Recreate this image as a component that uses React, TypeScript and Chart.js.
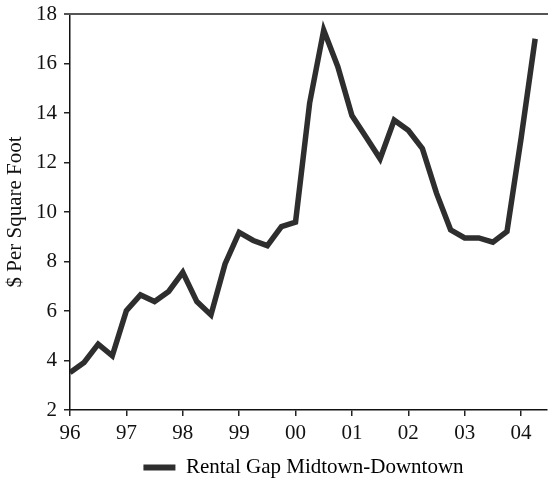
import React, { useEffect, useRef } from "react";
import { Chart, registerables } from "chart.js";

Chart.register(...registerables);

const yearLabels = ["96", "97", "98", "99", "00", "01", "02", "03", "04"];
// quarterly values starting 1996 Q1
const gapValues = [
  3.51, 3.92, 4.66, 4.19, 6.01, 6.65, 6.38, 6.79, 7.56, 6.38, 5.84, 7.9, 9.18,
  8.85, 8.64, 9.41, 9.59, 14.4, 17.35, 15.87, 13.9, 13.03, 12.15, 13.71, 13.3,
  12.56, 10.76, 9.28, 8.95, 8.95, 8.78, 9.21, 12.97, 17.0,
];
const seriesName = "Rental Gap Midtown-Downtown";
const yTicks = [2, 4, 6, 8, 10, 12, 14, 16, 18];

const FONT = "'Liberation Serif', 'Times New Roman', serif";
const FS = 21;

export default function App() {
  const ref = useRef<HTMLCanvasElement | null>(null);
  useEffect(() => {
    if (!ref.current) return;
    const pts = gapValues.map((v, i) => ({ x: i / 4, y: v }));
    const topLine = {
      id: "topLine",
      afterLayout(chart: any) {
        const lg = chart.legend;
        if (lg) {
          lg.left += 30;
          lg.right += 30;
          lg.top += 8;
          lg.bottom += 8;
        }
      },
      afterDraw(chart: any) {
        const { ctx, chartArea } = chart;
        ctx.save();
        ctx.strokeStyle = "#555";
        ctx.lineWidth = 2;
        ctx.beginPath();
        ctx.moveTo(chartArea.left - 6, chartArea.top);
        ctx.lineTo(chartArea.right + 2, chartArea.top);
        ctx.stroke();
        ctx.restore();
      },
    };
    const chart = new Chart(ref.current, {
      type: "line",
      data: {
        datasets: [
          {
            label: seriesName,
            data: pts,
            borderColor: "#2e2e2e",
            backgroundColor: "#2e2e2e",
            borderWidth: 5.5,
            pointRadius: 0,
            tension: 0,
            borderJoinStyle: "miter",
          },
          {
            label: "_inner",
            data: pts,
            borderColor: "#a8a8a8",
            backgroundColor: "#a8a8a8",
            borderWidth: 0.8,
            pointRadius: 0,
            tension: 0,
          },
        ],
      },
      options: {
        animation: false,
        responsive: true,
        maintainAspectRatio: false,
        layout: { padding: { top: 14, right: 1, left: 0, bottom: 0 } },
        plugins: {
          tooltip: { enabled: false },
          legend: {
            position: "bottom",
            labels: {
              font: { family: FONT, size: FS },
              color: "#111",
              boxWidth: 32,
              boxHeight: 6,
              padding: 5,
              generateLabels: () => [
                {
                  text: seriesName,
                  fillStyle: "#2e2e2e",
                  strokeStyle: "#2e2e2e",
                  lineWidth: 0,
                  hidden: false,
                  datasetIndex: 0,
                } as any,
              ],
            },
          },
        },
        scales: {
          x: {
            type: "linear",
            min: 0,
            max: 8.46,
            afterBuildTicks: (scale: any) => {
              scale.ticks = yearLabels.map((_, i) => ({ value: i }));
            },
            afterFit: (scale: any) => {
              scale.height = 34;
              scale.paddingLeft = 0;
              scale.paddingRight = 0;
            },
            ticks: {
              font: { family: FONT, size: FS },
              color: "#111",
              padding: 5,
              maxRotation: 0,
              autoSkip: false,
              callback: (v: any) => yearLabels[Math.round(Number(v))] ?? "",
            },
            grid: { drawOnChartArea: false, tickLength: 6, color: "#222", lineWidth: 1.5 },
            border: { color: "#111", width: 1.5 },
          },
          y: {
            min: 2,
            max: 18,
            afterBuildTicks: (scale: any) => {
              scale.ticks = yTicks.map((v) => ({ value: v }));
            },
            afterFit: (scale: any) => {
              scale.width = 70;
              scale.paddingTop = 0;
              scale.paddingBottom = 0;
            },
            title: {
              display: true,
              text: "$ Per Square Foot",
              font: { family: FONT, size: FS },
              color: "#111",
              padding: { top: 3, bottom: 0 },
            },
            ticks: {
              font: { family: FONT, size: FS },
              color: "#111",
              padding: 7,
            },
            grid: { drawOnChartArea: false, tickLength: 6, color: "#222", lineWidth: 1.5 },
            border: { color: "#111", width: 1.5 },
          },
        },
      },
      plugins: [topLine],
    });
    return () => chart.destroy();
  }, []);
  return (
    <div style={{ position: "absolute", left: 0, top: 0, width: 548, height: 480, background: "#fff" }}>
      <canvas ref={ref} />
    </div>
  );
}
